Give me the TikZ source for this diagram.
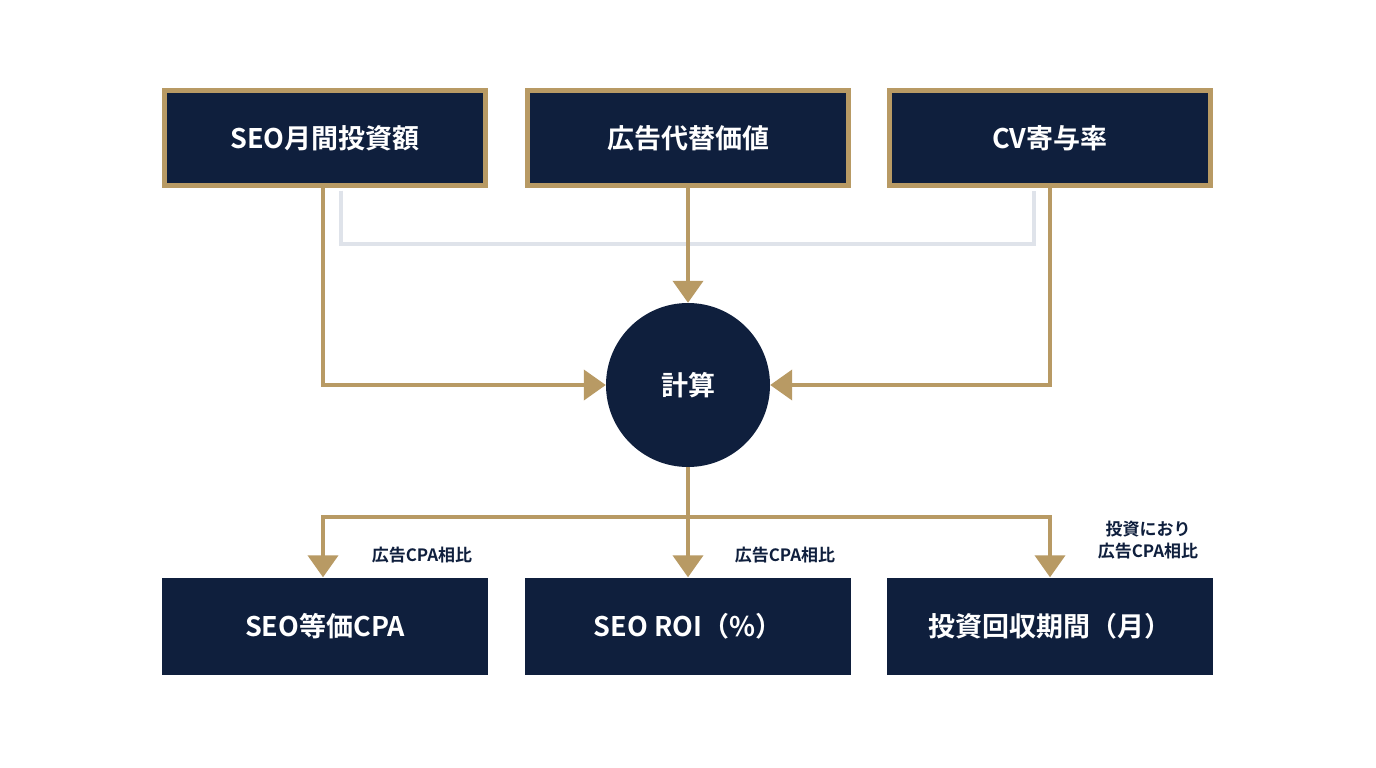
\documentclass[tikz,border=0pt]{standalone}
\usepackage{fontspec}
\setmainfont{Noto Sans CJK JP}[BoldFont={Noto Sans CJK JP Bold}]
\usetikzlibrary{arrows.meta}
\definecolor{navy}{HTML}{0F1F3D}
\definecolor{gold}{HTML}{B89A64}
\definecolor{lgray}{HTML}{DFE3EA}
\begin{document}
\begin{tikzpicture}[x=1pt,y=-1pt,
  top/.style={draw=gold,line width=5pt,fill=navy,minimum width=321pt,minimum height=95pt,text=white,font=\bfseries\fontsize{27}{30}\selectfont,inner sep=0pt},
  bot/.style={fill=navy,minimum width=326pt,minimum height=97pt,text=white,font=\bfseries\fontsize{27}{30}\selectfont,inner sep=0pt},
  ln/.style={draw=gold,line width=4pt},
  arr/.style={ln,-{Triangle[length=22pt,width=30pt]}},
  lab/.style={font=\bfseries\fontsize{17}{22}\selectfont,text=navy,align=center}]
\useasboundingbox[fill=white] (0,0) rectangle (1376,768);
\node[top] (a) at (325,138) {SEO月間投資額};
\node[top] (b) at (688,138) {広告代替価値};
\node[top] (c) at (1050,138) {CV寄与率};
\node[circle,fill=navy,minimum size=164pt,text=white,font=\bfseries\fontsize{27}{30}\selectfont] (k) at (688,385) {計算};
\node[bot] (d) at (325,626) {SEO等価CPA};
\node[bot] (e) at (688,626) {SEO ROI（\%）};
\node[bot] (f) at (1050,626) {投資回収期間（月）};
\coordinate (g1) at (341,190.5);
\coordinate (g2) at (1034,190.5);
\draw[draw=lgray,line width=4pt] (g1) |- (688,244) -| (g2);
\draw[arr] (a.south -| 323,0) |- (k.west);
\draw[arr] (b.south) -- (k.north);
\draw[arr] (c.south) |- (k.east);
\coordinate (j) at (688,517);
\draw[ln] (k.south) -- (j);
\draw[ln] (323,517) -- (1050,517);
\draw[arr] (323,515) -- (d.north -| 323,0);
\draw[arr] (j) -- (e.north);
\draw[arr] (1050,515) -- (f.north);
\node[lab] (l1) at (422,555) {広告CPA相比};
\node[lab] (l2) at (785,555) {広告CPA相比};
\node[lab] (l3) at (1148,540) {投資におり\\広告CPA相比};
\end{tikzpicture}
\end{document}
